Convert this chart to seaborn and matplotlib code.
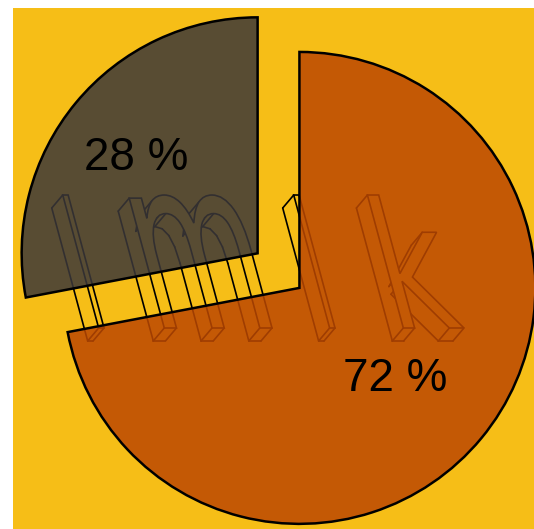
import numpy as np
import matplotlib
matplotlib.use("Agg")
import matplotlib.pyplot as plt
import seaborn as sns
from matplotlib.textpath import TextPath
from matplotlib.patches import PathPatch
from matplotlib.collections import LineCollection
from matplotlib.font_manager import FontProperties
from matplotlib.transforms import Affine2D

# Pie data
shares = [28, 72]
explode = [0.09, 0.14]
watermark = ["l", "m", "l", "k"]

sns.set_theme(style="white")
plt.rcParams["font.family"] = ["Liberation Sans", "DejaVu Sans"]

BG = "#F6BE17"
wedge_colors = [(0.235, 0.22, 0.224, 0.85), (0.737, 0.282, 0.008, 0.85)]

fig = plt.figure(figsize=(5.34, 5.29), dpi=100, facecolor="white")
ax = fig.add_axes([13 / 534, 0, 521 / 534, 521 / 529])
ax.set_facecolor(BG)

wedges, texts, autotexts = ax.pie(
    shares,
    explode=explode,
    colors=wedge_colors,
    startangle=90,
    center=(0.002, 0.007),
    autopct=lambda p: f"{p:.0f} %",
    frame=True,
    wedgeprops=dict(edgecolor="black", linewidth=1.8),
    textprops=dict(fontsize=33, color="black", va="center_baseline"),
)
for w in wedges:
    w.set_zorder(2)
for t in autotexts:
    t.set_zorder(3)

# place the percentage labels near each wedge's bisector
label_dist = [0.67, 0.545]
label_turn = [0.0, -2.4]
for w, t, d, dt in zip(wedges, autotexts, label_dist, label_turn):
    th = np.deg2rad((w.theta1 + w.theta2) / 2 + dt)
    cx, cy = w.center
    t.set_position((cx + d * w.r * np.cos(th), cy + d * w.r * np.sin(th)))

lim = 1.104
ax.set_xlim(-lim, lim)
ax.set_ylim(-lim, lim)
ax.set_aspect("equal")
ax.set_xticks([])
ax.set_yticks([])
for s in ax.spines.values():
    s.set_visible(False)

# Extruded outline lettering behind the translucent wedges
PX = 1 / 236.0
cxp, cyp = 273.5, 268.5
fp = FontProperties(family="DejaVu Sans")
glyph_left = [93, 152, 324, 392]
glyph_width = [11, 120, 11, 72]
glyph_height = 133
baseline = 328
shear = np.arctan(-0.27)
depth = np.array([-11 * PX, -13 * PX])
LW = 1.2


def extrusion_lines(path):
    """Visible far edges and corner connectors of an extruded glyph."""
    polys = [p[:-1] if np.allclose(p[0], p[-1]) else p
             for p in path.to_polygons()]
    areas = [0.5 * np.sum(p[:, 0] * np.roll(p[:, 1], -1)
                          - np.roll(p[:, 0], -1) * p[:, 1]) for p in polys]
    sign = np.sign(areas[int(np.argmax(np.abs(areas)))])
    segs = []
    for p in polys:
        n = len(p)
        e = np.roll(p, -1, axis=0) - p
        normals = sign * np.column_stack([e[:, 1], -e[:, 0]])
        facing = normals @ depth > 0
        for i in range(n):
            if facing[i]:
                segs.append([p[i] + depth, p[(i + 1) % n] + depth])
        for i in range(n):
            a, b = e[i - 1], e[i]
            cosang = np.dot(a, b) / (np.linalg.norm(a) * np.linalg.norm(b) + 1e-12)
            sharp = cosang < np.cos(np.deg2rad(35))
            if facing[i - 1] != facing[i] or (sharp and facing[i - 1] and facing[i]):
                segs.append([p[i], p[i] + depth])
    return segs


for ch, left, width in zip(watermark, glyph_left, glyph_width):
    p = TextPath((0, 0), ch, size=1, prop=fp)
    v = p.vertices
    x0, x1 = v[:, 0].min(), v[:, 0].max()
    y1 = v[:, 1].max()
    tr = (Affine2D()
          .translate(-x0, 0)
          .scale(width * PX / (x1 - x0), glyph_height * PX / y1)
          .skew(shear, 0)
          .translate((left - cxp) * PX, (cyp - baseline) * PX))
    front = tr.transform_path(p)
    ax.add_collection(LineCollection(extrusion_lines(front), colors="black",
                                     linewidths=LW, zorder=1.2,
                                     capstyle="round", joinstyle="round"))
    ax.add_patch(PathPatch(front, facecolor=BG, edgecolor="black",
                           lw=LW, zorder=1.4))

fig.savefig("out.png", dpi=100, facecolor="white")
